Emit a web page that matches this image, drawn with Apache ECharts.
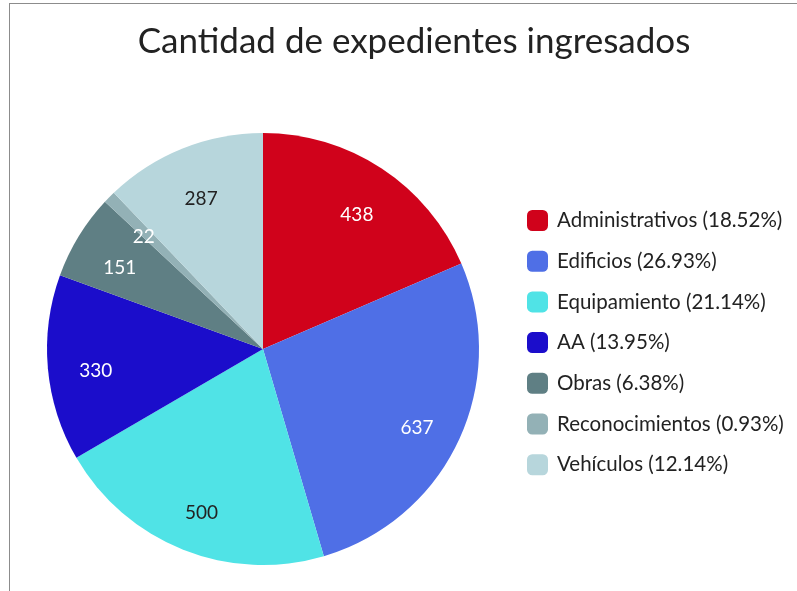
<!DOCTYPE html>
<html lang="es">

<head>
    <meta charset="UTF-8">
    <title>Cantidad de expedientes ingresados</title>
    <script src="https://cdn.jsdelivr.net/npm/echarts@6/dist/echarts.min.js"></script>
    <style>
        html, body {
            margin: 0;
            padding: 0;
            overflow: hidden;
            background: #fff;
        }
        .chart {
            position: absolute;
            left: 9px;
            top: 3px;
            width: 808px;
            height: 620px;
            border: 1px solid #8c8c8c;
        }
    </style>
</head>

<body>
    <div id="chart1" class="chart"></div>
    <script>
        // datos
        var categorias = ['Administrativos', 'Edificios', 'Equipamiento', 'AA', 'Obras', 'Reconocimientos', 'Vehículos'];
        var cantidades = [438, 637, 500, 330, 151, 22, 287];

        var colores = ['#d0021b', '#4f6fe6', '#50e3e6', '#1b0dcb', '#5f7f84', '#93b1b6', '#b7d6dc'];
        var etiquetasOscuras = ['Equipamiento', 'Vehículos'];

        var total = cantidades.reduce(function (a, b) { return a + b; }, 0);
        var porcentaje = {};
        categorias.forEach(function (c, i) {
            porcentaje[c] = (cantidades[i] / total * 100).toFixed(2);
        });

        var datos = categorias.map(function (c, i) {
            return {
                name: c,
                value: cantidades[i],
                itemStyle: { color: colores[i] }
            };
        });

        // serie transparente solo para ubicar las etiquetas mas afuera
        var datosEtiquetas = categorias.map(function (c, i) {
            return {
                name: c,
                value: cantidades[i],
                itemStyle: { color: 'rgba(0,0,0,0)' },
                label: { color: etiquetasOscuras.indexOf(c) >= 0 ? '#222' : '#fff' }
            };
        });

        var centro = [253, 345];

        const chart1 = echarts.init(document.getElementById('chart1'));
        chart1.setOption({
            animation: false,
            textStyle: { fontFamily: 'Lato' },
            title: {
                text: 'Cantidad de expedientes ingresados',
                left: 'center',
                top: 20,
                padding: 0,
                textStyle: {
                    fontFamily: 'Lato',
                    fontSize: 35,
                    fontWeight: 'normal',
                    color: '#222'
                }
            },
            legend: {
                orient: 'vertical',
                left: 517,
                top: 206,
                padding: 0,
                itemWidth: 21,
                itemHeight: 21,
                itemGap: 19.7,
                icon: 'roundRect',
                data: categorias,
                selectedMode: false,
                formatter: function (name) {
                    return name + ' (' + porcentaje[name] + '%)';
                },
                textStyle: {
                    fontFamily: 'Lato',
                    fontSize: 20.5,
                    lineHeight: 21,
                    color: '#222',
                    padding: [0, 0, 0, 4]
                }
            },
            series: [
                {
                    type: 'pie',
                    center: centro,
                    radius: [0, 216],
                    startAngle: 90,
                    clockwise: true,
                    silent: true,
                    label: { show: false },
                    labelLine: { show: false },
                    itemStyle: { borderWidth: 0 },
                    data: datos
                },
                {
                    type: 'pie',
                    center: centro,
                    radius: [116, 216],
                    startAngle: 90,
                    clockwise: true,
                    silent: true,
                    legendHoverLink: false,
                    label: {
                        show: true,
                        position: 'inside',
                        fontFamily: 'Lato',
                        fontSize: 19,
                        offset: [1, 7],
                        formatter: '{c}'
                    },
                    labelLine: { show: false },
                    itemStyle: { borderWidth: 0 },
                    data: datosEtiquetas
                }
            ]
        });
    </script>
</body>

</html>
